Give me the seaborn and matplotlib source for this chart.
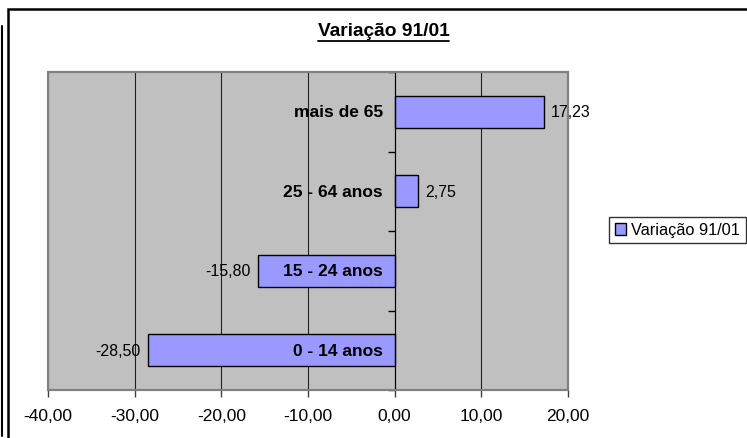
import matplotlib
matplotlib.use("Agg")
import matplotlib.pyplot as plt
from matplotlib.patches import Rectangle, Patch
from matplotlib.lines import Line2D
import seaborn as sns
import pandas as pd

# data
categories = ["mais de 65", "25 - 64 anos", "15 - 24 anos", "0 - 14 anos"]
values = [17.23, 2.75, -15.80, -28.50]
series_name = "Variação 91/01"
x_ticks = [-40, -30, -20, -10, 0, 10, 20]

df = pd.DataFrame({"faixa": categories, "variacao": values})

sns.set_style("white")
plt.rcParams["font.family"] = ["Liberation Sans", "DejaVu Sans"]
plt.rcParams["text.color"] = "black"
plt.rcParams["xtick.color"] = "black"
plt.rcParams["ytick.color"] = "black"

W, H = 747, 439
fig = plt.figure(figsize=(W / 100, H / 100), dpi=100)
ax = fig.add_axes([48 / W, 1 - 391 / H, 520 / W, 318 / H])
ax.set_facecolor("#C0C0C0")

sns.barplot(data=df, x="variacao", y="faixa", order=categories, orient="h",
            color="#9999FF", edgecolor="black", linewidth=1, width=0.4,
            saturation=1, ax=ax, zorder=3)

ax.set_xlim(-40, 20)
ax.set_ylim(3.5, -0.5)
ax.set_xticks(x_ticks)
ax.set_xticklabels([f"{t:.2f}".replace(".", ",") for t in x_ticks], fontsize=12.5)
ax.tick_params(axis="x", direction="out", length=5, width=1, color="#404040",
               labelcolor="black", bottom=True, pad=8)
ax.grid(axis="x", color="#202020", linewidth=0.8, zorder=1)
ax.set_xlabel("")
ax.set_ylabel("")

# category axis sits at zero
ax.spines["left"].set_position(("data", 0))
ax.spines["left"].set_color("black")
ax.spines["left"].set_zorder(4)
ax.set_yticks([-0.5, 0.5, 1.5, 2.5, 3.5])
ax.set_yticklabels([])
ax.tick_params(axis="y", direction="out", length=5, width=1, color="black", left=True)
for side in ["top", "right", "bottom"]:
    ax.spines[side].set_color("#808080")
    ax.spines[side].set_linewidth(1.5)
ax.add_patch(Rectangle((0, 0), 1, 1, transform=ax.transAxes, fill=False,
                       edgecolor="#808080", linewidth=1.5, zorder=5, clip_on=False))

# category labels next to the zero axis
for i, cat in enumerate(categories):
    ax.annotate(cat, xy=(0, i), xytext=(-12, 0), textcoords="offset pixels",
                ha="right", va="center", fontsize=12.5, fontweight="bold",
                color="black", zorder=6)

# value labels
value_texts = ax.bar_label(ax.containers[0],
                           labels=[f"{v:.2f}".replace(".", ",") for v in values],
                           padding=5, fontsize=11.5, color="black")
for t in value_texts:
    t.set_zorder(7)

# title
fig.text(384 / W, 1 - 31 / H, series_name, ha="center", va="center",
         fontsize=13.8, fontweight="bold", color="black")
fig.add_artist(Line2D([318 / W, 449 / W], [1 - 41.5 / H, 1 - 41.5 / H],
                      color="black", linewidth=1.3))

# legend
fig.legend(handles=[Patch(facecolor="#9999FF", edgecolor="black", linewidth=1)],
           labels=[series_name], loc="center left",
           bbox_to_anchor=(609 / W, 1 - 231 / H), fontsize=11.8, frameon=True,
           fancybox=False, edgecolor="black", handlelength=0.7, handleheight=0.7,
           handletextpad=0.3, borderpad=0.35, borderaxespad=0)

# chart frame
fig.add_artist(Rectangle((8 / W, -0.01), 1.0, 1 - 9.5 / H + 0.01, transform=fig.transFigure,
                         fill=False, edgecolor="black", linewidth=1.8))
fig.add_artist(Line2D([2 / W, 2 / W], [1 - 27 / H, 1 - 437 / H], color="black", linewidth=1.5))

fig.savefig("out.png", dpi=100)
